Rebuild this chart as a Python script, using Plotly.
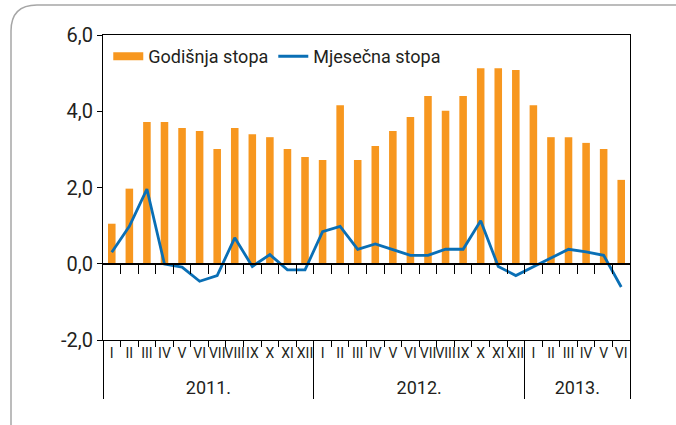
import plotly.graph_objects as go

# ---- data ----
years = ["2011."] * 12 + ["2012."] * 12 + ["2013."] * 6
months = ["I", "II", "III", "IV", "V", "VI", "VII", "VIII", "IX", "X", "XI", "XII"] * 2 + ["I", "II", "III", "IV", "V", "VI"]
godisnja = [1.05, 1.97, 3.72, 3.72, 3.56, 3.48, 3.01, 3.56, 3.40, 3.32, 3.01, 2.80,
            2.72, 4.16, 2.72, 3.09, 3.48, 3.85, 4.40, 4.01, 4.40, 5.13, 5.13, 5.08,
            4.16, 3.32, 3.32, 3.17, 3.01, 2.20]
mjesecna = [0.30, 0.98, 1.96, -0.01, -0.09, -0.46, -0.31, 0.68, -0.07, 0.24, -0.16, -0.16,
            0.84, 0.98, 0.38, 0.52, 0.37, 0.22, 0.22, 0.38, 0.38, 1.13, -0.07, -0.31,
            -0.08, 0.15, 0.38, 0.31, 0.22, -0.61]
y_tickvals = [-2, 0, 2, 4, 6]
y_ticktext = ["-2,0", "0,0", "2,0", "4,0", "6,0"]
names = ["Godišnja stopa", "Mjesečna stopa"]

FONT = "Roboto, Liberation Sans, sans-serif"
TXT = "#231f20"
ORANGE = "#f7971f"
BLUE = "#0a6fb5"

n = len(months)
idx = list(range(n))
# extra blank line under each month label gives the year row more room
month_labels = [m + "<br> " for m in months]
year_labels = ["<span style='font-size:18px'>" + y + "</span>" for y in years]

fig = go.Figure()
fig.add_trace(go.Bar(x=[year_labels, month_labels], y=godisnja, name=names[0], showlegend=False,
                     marker=dict(color=ORANGE, line=dict(width=0))))
# legend-only entry so the key shows a wide orange bar swatch
fig.add_trace(go.Scatter(x=[None], y=[None], name=names[0], mode="lines",
                         line=dict(color=ORANGE, width=8), xaxis="x2"))
fig.add_trace(go.Scatter(x=idx, y=mjesecna, name=names[1], xaxis="x2",
                         mode="lines", line=dict(color=BLUE, width=2.8)))

W, H = 676, 425
ml, mr, mt, mb = 103, 46, 35, 85
pw, ph = W - ml - mr, H - mt - mb


def px(x):
    return (x - ml) / pw


def py(y):
    return (H - mb - y) / ph


# outer rounded frame (extends beyond the canvas on right/bottom)
x0, y0, x1, y1, r = 11, 5, 700, 450, 26
path = (f"M {px(x0)},{py(y0 + r)} Q {px(x0)},{py(y0)} {px(x0 + r)},{py(y0)} "
        f"L {px(x1)},{py(y0)} L {px(x1)},{py(y1)} L {px(x0 + r)},{py(y1)} "
        f"Q {px(x0)},{py(y1)} {px(x0)},{py(y1 - r)} Z")

fig.update_layout(
    width=W, height=H,
    margin=dict(l=ml, r=mr, t=mt, b=mb, pad=0),
    paper_bgcolor="white", plot_bgcolor="white",
    font=dict(family=FONT, size=19, color=TXT),
    bargap=0.57,
    showlegend=True,
    legend=dict(orientation="h", x=0.01, y=0.99, xanchor="left", yanchor="top",
                bgcolor="rgba(0,0,0,0)", font=dict(size=18, color=TXT),
                itemwidth=30, tracegroupgap=0, traceorder="normal"),
    xaxis=dict(type="multicategory", showline=True, linecolor="black", linewidth=1.2,
               mirror=True, ticks="outside", ticklen=6, tickcolor="black",
               tickson="boundaries", showdividers=True, dividercolor="black",
               dividerwidth=1.2, tickangle=0, showgrid=False, zeroline=False,
               tickmode="linear", dtick=1, tick0=0,
               tickfont=dict(size=14, color=TXT)),
    xaxis2=dict(overlaying="x", anchor="free", position=0.25, range=[-0.5, n - 0.5],
                showline=True, linecolor="black", linewidth=1.5, ticks="outside",
                ticklen=9, tickcolor="black", tickmode="array",
                tickvals=[i + 0.5 for i in idx[:-1]], showticklabels=False,
                showgrid=False, zeroline=False),
    yaxis=dict(range=[-2, 6], tickvals=y_tickvals, ticktext=y_ticktext,
               showline=True, linecolor="black", linewidth=1.2, mirror=True,
               ticks="outside", ticklen=5, tickcolor="black", showgrid=False,
               zeroline=False, tickfont=dict(size=20, color=TXT)),
    shapes=[dict(type="path", path=path, xref="paper", yref="paper",
                 line=dict(color="#a6a6a6", width=1.5), layer="below")],
)

fig.write_html("out.html", config={"displayModeBar": False},
               post_script="document.body.style.margin='0';")
